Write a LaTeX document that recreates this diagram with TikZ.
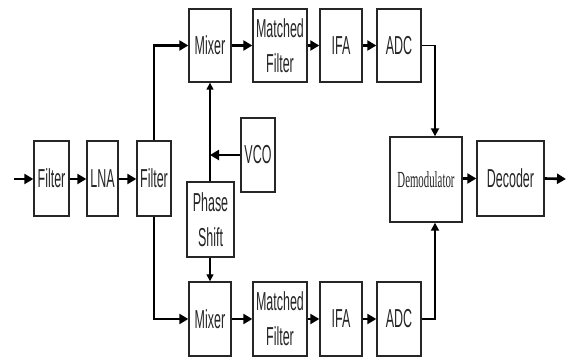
\documentclass[tikz,border=0pt]{standalone}
\usepackage{fontspec}
\usetikzlibrary{arrows.meta}
\newfontfamily\narsans[FakeStretch=0.48]{Liberation Sans}
\newfontfamily\narserif[FakeStretch=0.47]{Liberation Serif}
\begin{document}
\begin{tikzpicture}[x=1pt,y=-1pt,
  box/.style={draw=black!85, line width=1.4pt, inner sep=0pt, align=center,
    font=\narsans\fontsize{26}{35}\selectfont, text=black!85},
  arr/.style={line width=2.6pt, -{Triangle[length=9pt,width=10pt]}},
  midarr/.style={line width=1.8pt, -{Triangle[length=8pt,width=8pt]}},
  thinarr/.style={line width=1.4pt, -{Triangle[length=7pt,width=7pt]}},
  wire/.style={line width=2.2pt}]
\useasboundingbox (0,0) rectangle (566,358);
% front end
\node[box, minimum width=35pt, minimum height=75pt] (f1) at (51.5,178.5) {Filter};
\node[box, minimum width=31pt, minimum height=75pt] (lna) at (102.5,178.5) {LNA};
\node[box, minimum width=34pt, minimum height=75pt] (f2) at (154,178.5) {Filter};
% top row
\node[box, minimum width=42pt, minimum height=73pt] (mx1) at (210,45.5) {Mixer};
\node[box, minimum width=54pt, minimum height=73pt] (mf1) at (280,45.5) {Matched\\Filter};
\node[box, minimum width=42pt, minimum height=73pt] (ifa1) at (341,45.5) {IFA};
\node[box, minimum width=44pt, minimum height=73pt] (adc1) at (399,45.5) {ADC};
% bottom row
\node[box, minimum width=42pt, minimum height=74pt] (mx2) at (210,319) {Mixer};
\node[box, minimum width=54pt, minimum height=74pt] (mf2) at (280,319) {Matched\\Filter};
\node[box, minimum width=42pt, minimum height=74pt] (ifa2) at (341,319) {IFA};
\node[box, minimum width=44pt, minimum height=74pt] (adc2) at (399,319) {ADC};
% LO
\node[box, minimum width=34pt, minimum height=74pt] (vco) at (258,155) {VCO};
\node[box, minimum width=47pt, minimum height=75pt] (ps) at (210.5,219.5) {Phase\\Shift};
% back end
\node[box, minimum width=72pt, minimum height=85pt,
  font=\narserif\fontsize{23}{28}\selectfont] (dem) at (426,179.5) {Demodulator};
\node[box, minimum width=67pt, minimum height=75pt] (dec) at (510.5,178.5) {Decoder};
\coordinate (in) at (14,179);
\coordinate (out) at (566,179);
% connectors
\draw[arr] (in) -- (f1.west |- in);
\draw[arr] (f1.east |- in) -- (lna.west |- in);
\draw[arr] (lna.east |- in) -- (f2.west |- in);
\draw[arr] (f2.north) |- (mx1.west);
\draw[arr] (f2.south) |- (mx2.west);
\draw[arr] (mx1) -- (mf1);
\draw[arr] (mf1) -- (ifa1);
\draw[arr] (ifa1) -- (adc1);
\draw[arr] (mx2) -- (mf2);
\draw[arr] (mf2) -- (ifa2);
\draw[arr] (ifa2) -- (adc2);
\draw[midarr] (adc1.east) -| ([xshift=9pt]dem.north);
\draw[midarr] (adc2.east) -| ([xshift=9pt]dem.south);
\draw[thinarr] (ps.north -| mx1.south) -- (mx1.south);
\draw[thinarr] (ps.south -| mx2.north) -- (mx2.north);
\draw[arr] (vco.west) -- (vco.west -| mx1.south);
\draw[arr] (dem.east |- dec.west) -- (dec.west);
\draw[arr] (dec.east) -- (out);
\end{tikzpicture}
\end{document}
